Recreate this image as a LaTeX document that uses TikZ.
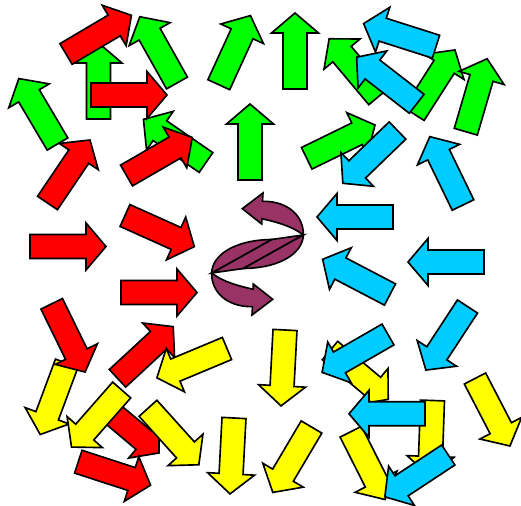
\documentclass[tikz,border=0pt]{standalone}
\usepackage{tikz}
\definecolor{arrowred}{RGB}{255,0,0}
\definecolor{arrowgreen}{RGB}{0,255,0}
\definecolor{arrowcyan}{RGB}{0,204,255}
\definecolor{arrowyellow}{RGB}{255,255,0}
\definecolor{swapplum}{RGB}{153,51,102}
\tikzset{blockarrow/.style={draw=black, line width=1.4pt, line join=miter}}
% tail centre (x,y) and direction of one block arrow
\newcommand{\blockarrow}[4]{%
  \draw[blockarrow, fill=#1, shift={(#2,#3)}, rotate=#4]
    (0,-12) -- (56,-12) -- (56,-23.5) -- (76,0) -- (56,23.5) -- (56,12) -- (0,12) -- cycle;}

\begin{document}
\begin{tikzpicture}[x=0.03cm, y=-0.03cm]
  \useasboundingbox (0,0) rectangle (521,506);

  % green ones, lowest
  \foreach \x/\y/\a in {177/83/119.3, 98.5/119/90, 57.5/144/120.6, 206/162.5/145.4,
      218.8/84.7/65.4, 295/89/90, 250/180/90, 378/97/130, 414/114/57.4,
      465.8/131.7/73.7, 306.7/158.3/26}
    {\blockarrow{arrowgreen}{\x}{\y}{\a}}

  % red ones
  \foreach \x/\y/\a in {66/54/30.6, 91/95/0, 47.5/203/56, 126.5/175.5/30,
      125/215.5/-24.2, 30/246.5/0, 121/292.5/0, 117.5/378.3/42.8,
      100.8/404.1/-40, 78.3/461.7/-18}
    {\blockarrow{arrowred}{\x}{\y}{\a}}

  % yellow ones
  \foreach \x/\y/\a in {227/348.5/-157.3, 66.7/363.3/-110.4, 121.7/390/-131.3,
      148/408.3/-48, 234/418/-93, 285/330/-93, 330/350.5/-40, 432.5/400.5/-92,
      475/378.5/-62.6, 311.5/427/-120.6, 350.8/431.7/-63.2}
    {\blockarrow{arrowyellow}{\x}{\y}{\a}}

  \blockarrow{arrowred}{51.7}{303.8}{-63.9}

  % cyan ones, on top
  \foreach \x/\y/\a in {436/46.7/162.3, 416.7/103.8/142.2, 397.5/130.5/224,
      463/205/115.9, 393/217/180, 484/262/180, 390/294.5/152.4,
      467.5/306.5/-123.2, 388/334.5/209.9, 425/413.8/180, 448.3/455/213.4}
    {\blockarrow{arrowcyan}{\x}{\y}{\a}}

  % swap sign in the middle
  \begin{scope}[shift={(257.5,254)}]
    \draw[blockarrow, fill=swapplum] (-45.8,19) -- (14.2,-14.5) -- (45.8,-19) -- (-14.2,14.5) -- cycle;
    \foreach \r in {0,180} {
      \begin{scope}[rotate=\r]
        \draw[blockarrow, fill=swapplum] (45.8,-19) .. controls (45.5,-2) and (24.5,14) .. (-14.2,14.5) -- cycle;
        \draw[blockarrow, fill=swapplum] (5.5,-61) -- (-15.2,-45.3) -- (4.2,-30) -- (4.4,-35.3)
          .. controls (18.5,-32) and (34.5,-28) .. (45.8,-19)
          .. controls (46.5,-36) and (32.5,-53) .. (5,-52.7) -- cycle;
      \end{scope}
    }
  \end{scope}
\end{tikzpicture}
\end{document}
